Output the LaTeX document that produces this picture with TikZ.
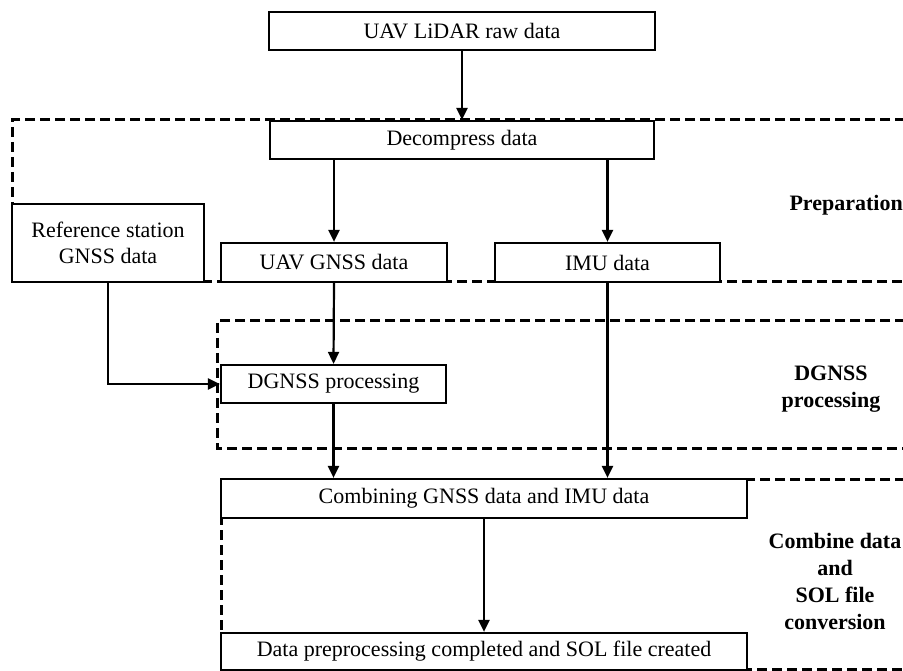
\documentclass[tikz,border=0pt]{standalone}
\usepackage{fontspec}
\setmainfont{Liberation Serif}
\usetikzlibrary{arrows.meta}
\begin{document}
\begin{tikzpicture}[x=1pt,y=-1pt,
  box/.style={draw,line width=2.2pt,fill=white,inner sep=0pt,font=\fontsize{22}{26}\selectfont,align=center},
  region/.style={draw,line width=3pt,dash pattern=on 10pt off 5pt},
  lab/.style={font=\fontsize{22}{27}\selectfont\bfseries,align=center},
  arr/.style={line width=2.2pt,-{Triangle[width=11pt,length=12pt]}}]
\useasboundingbox (0,0) rectangle (903,671);
\clip (0,0) rectangle (903,671);
% regions
\draw[region] (920,120) -- (12,120) -- (12,282) -- (920,282);
\draw[region] (920,321) -- (217,321) -- (217,448) -- (920,448);
\draw[region] (920,479) -- (221,479) -- (221,669) -- (920,669);
% boxes
\node[box,minimum width=386pt,minimum height=38pt] (raw) at (462,31) {UAV LiDAR raw data};
\node[box,minimum width=384pt,minimum height=38pt] (dec) at (462,140) {Decompress data};
\node[box,minimum width=192pt,minimum height=78pt] (ref) at (108,243) {Reference station\\GNSS data};
\node[box,minimum width=226pt,minimum height=39pt] (ugn) at (334,262.5) {UAV GNSS data};
\node[box,minimum width=225pt,minimum height=39pt] (imu) at (607.5,262.5) {IMU data};
\node[box,minimum width=225pt,minimum height=38pt] (dg) at (333.5,384) {DGNSS processing};
\node[box,minimum width=526pt,minimum height=39pt] (comb) at (484,498.5) {Combining GNSS data and IMU data};
\node[box,minimum width=526pt,minimum height=37pt] (fin) at (484,651.5) {Data preprocessing completed and SOL file created};
% labels
\node[lab,anchor=west] (lprep) at (786,205) {Preparation};
\node[lab] (ldg) at (831,389) {DGNSS\\processing};
\node[lab] (lcomb) at (835,581) {Combine data\\and\\SOL file\\conversion};
% connectors
\draw[arr] (raw.south) -- (dec.north);
\draw[arr] (dec.south -| ugn.north) -- (ugn.north);
\draw[arr] (dec.south -| imu.north) -- (imu.north);
\draw[arr] (ugn.south) -- (dg.north);
\draw[arr] (ref.south) |- (dg.west);
\draw[arr] (dg.south) -- (dg.south |- comb.north);
\draw[arr] (imu.south) -- (imu.south |- comb.north);
\draw[arr] (comb.south) -- (fin.north);
\end{tikzpicture}
\end{document}
